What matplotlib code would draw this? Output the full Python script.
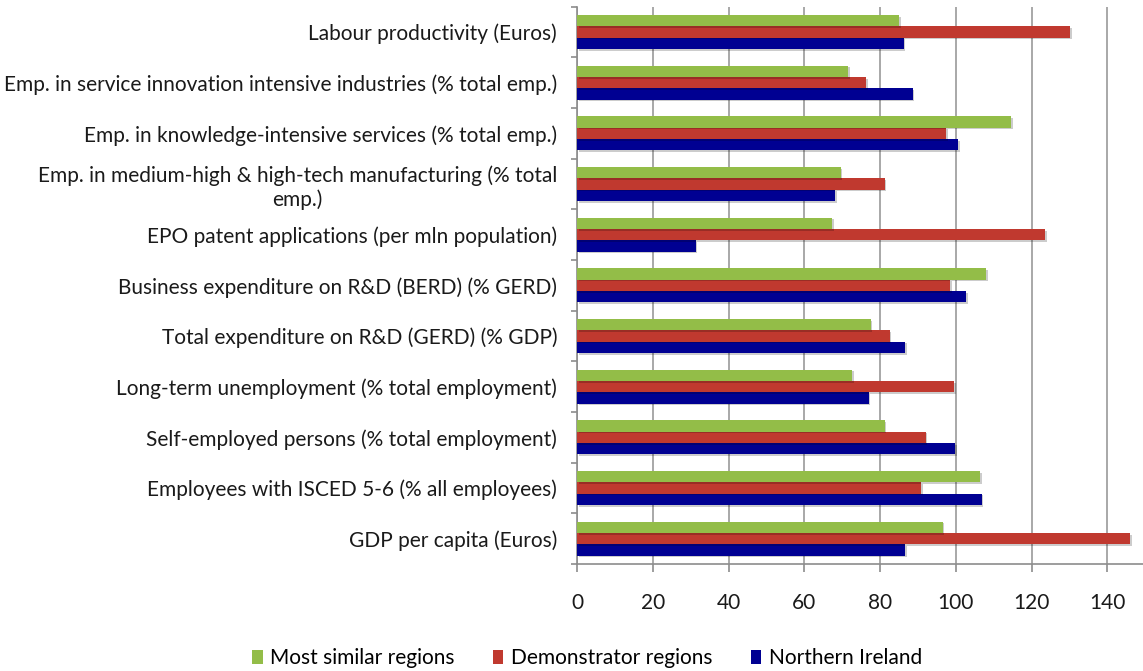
import matplotlib
matplotlib.use("Agg")
import matplotlib.pyplot as plt
import matplotlib.patheffects as pe
from matplotlib.patches import Patch
import numpy as np

# Indicators, listed bottom to top as drawn on the category axis
categories = [
    "GDP per capita (Euros)",
    "Employees with ISCED 5-6 (% all employees)",
    "Self-employed persons (% total employment)",
    "Long-term unemployment (% total employment)",
    "Total expenditure on R&D (GERD) (% GDP)",
    "Business expenditure on R&D (BERD) (% GERD)",
    "EPO patent applications (per mln population)",
    "Emp. in medium-high & high-tech manufacturing (% total\nemp.)",
    "Emp. in knowledge-intensive services (% total emp.)",
    "Emp. in service innovation intensive industries (% total emp.)",
    "Labour productivity (Euros)",
]

northern_ireland = [86.6, 106.8, 99.9, 77.0, 86.6, 102.8, 31.3, 68.2, 100.6, 88.6, 86.2]
demonstrator = [146.0, 90.9, 92.0, 99.6, 82.5, 98.5, 123.6, 81.2, 97.5, 76.4, 130.2]
most_similar = [96.5, 106.4, 81.2, 72.6, 77.5, 108.1, 67.3, 69.6, 114.7, 71.6, 85.1]

series_names = ["Most similar regions", "Demonstrator regions", "Northern Ireland"]
x_ticks = [0, 20, 40, 60, 80, 100, 120, 140]

GREEN = "#93bd48"
RED = "#c0392f"
BLUE = "#000092"

plt.rcParams["font.family"] = ["Lato", "DejaVu Sans"]

fig = plt.figure(figsize=(11.43, 6.71), dpi=100)
ax = fig.add_axes([0.5051, 0.1595, 0.4967, 0.8305])

y = np.arange(len(categories))
h = 0.224
shadow = [pe.SimplePatchShadow(offset=(1.2, -1.2), alpha=0.2, shadow_rgbFace="#000000"), pe.Normal()]

for vals, off, col in [(northern_ireland, -h, BLUE), (demonstrator, 0, RED), (most_similar, h, GREEN)]:
    bars = ax.barh(y + off, vals, height=h, color=col, zorder=3)
    for b in bars:
        b.set_path_effects(shadow)

ax.set_xlim(0, 150)
ax.set_ylim(-0.5, len(categories) - 0.5)

ax.set_xticks(x_ticks)
ax.set_xticklabels([str(t) for t in x_ticks])
ax.xaxis.grid(True, color="#a8a8a8", linewidth=1.4, zorder=0)
ax.set_axisbelow(True)

ax.set_yticks(y)
ax.set_yticklabels(categories, multialignment="center")
ax.set_yticks(np.arange(-0.5, len(categories)), minor=True)

ax.tick_params(axis="y", which="major", length=0, pad=14.5, labelsize=15, labelcolor="#1a1a1a")
ax.tick_params(axis="y", which="minor", length=4, width=1.2, color="#8c8c8c", direction="out")
ax.tick_params(axis="x", which="major", length=6, width=1.2, color="#8c8c8c", direction="out",
               pad=15, labelsize=15, labelcolor="#1a1a1a")

for side in ["top", "right"]:
    ax.spines[side].set_visible(False)
for side in ["left", "bottom"]:
    ax.spines[side].set_color("#8c8c8c")
    ax.spines[side].set_linewidth(1.2)

handles = [Patch(facecolor=GREEN), Patch(facecolor=RED), Patch(facecolor=BLUE)]
fig.legend(handles, series_names, loc="center", bbox_to_anchor=(0.5136, 0.019), ncol=3,
           frameon=False, fontsize=15, handlelength=0.5, handleheight=0.6,
           handletextpad=0.35, columnspacing=1.85)

fig.savefig("out.png", dpi=100)
